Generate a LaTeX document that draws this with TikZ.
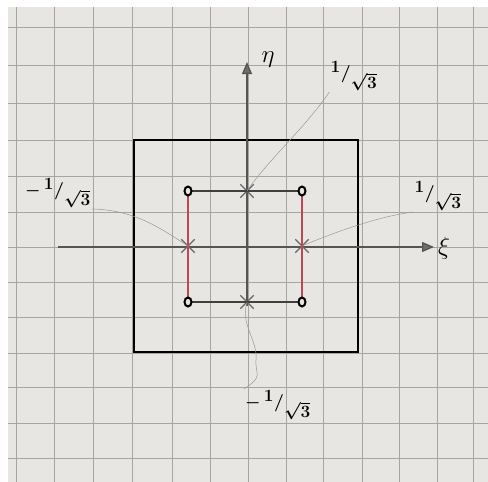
\documentclass[tikz,border=0pt]{standalone}
\usetikzlibrary{arrows.meta,shapes.geometric,shapes.misc}
\definecolor{paper}{RGB}{232,230,226}
\definecolor{gridc}{RGB}{168,165,161}
\definecolor{axisc}{RGB}{85,85,85}
\definecolor{redl}{RGB}{190,70,85}
\newcommand{\isqt}{{\boldmath$\mathbf{}^{\textstyle\mathbf{1}}/_{\textstyle\sqrt{\mathbf{3}}}$}}
\newcommand{\misqt}{{\boldmath$-\,{}^{\textstyle\mathbf{1}}/_{\textstyle\sqrt{\mathbf{3}}}$}}
\tikzset{
  gridline/.style={gridc,line width=0.9pt},
  axisline/.style={axisc,line width=1.3pt,-{Triangle[length=12pt,width=10pt,fill=axisc!85]}},
  gpoint/.style={ellipse,draw=black,line width=2pt,fill=paper,minimum width=7pt,minimum height=9pt,inner sep=0pt},
  xpoint/.style={cross out,draw=axisc!90,line width=1.3pt,minimum size=12pt,inner sep=0pt},
  blackl/.style={black!75,line width=1.2pt},
  redline/.style={redl,line width=1.3pt},
  leader/.style={gray!80,line width=0.5pt},
  lab/.style={font=\fontsize{19}{19}\selectfont,inner sep=1pt},
  axlab/.style={font=\fontsize{28}{28}\selectfont,inner sep=0pt}
}
\begin{document}
\begin{tikzpicture}[x=1pt,y=-1pt]
\useasboundingbox (0,0) rectangle (488,482);
\fill[white] (0,0) rectangle (488,482);
\fill[paper] (8,7) rectangle (488,482);
% grid
\foreach \gx in {16,54,93,132,172,210,248,286,323,362,399,437,473}
  \draw[gridline] (\gx,7) -- (\gx,482);
\foreach \gy in {27,65,103,140,176,212,247,282,317,353,387,423,458}
  \draw[gridline] (8,\gy) -- (488,\gy);
% outer square
\draw[black,line width=2.6pt] (134,140) rectangle (358,352);
% axes
\coordinate (xl) at (58,247);
\coordinate (xr) at (434,247);
\coordinate (yb) at (247,306);
\coordinate (yt) at (247,62);
\draw[axisline] (xl) -- (xr);
\draw[axisline] (yb) -- (yt);
\node[axlab] (eta) at (268,60) {$\eta$};
\node[axlab] (xi) at (444,248) {$\xi$};
% points
\node[xpoint] (x1) at (247,191) {};
\node[xpoint] (x2) at (188,246) {};
\node[xpoint] (x3) at (302,246) {};
\node[xpoint] (x4) at (247,302) {};
\draw[blackl] (188,191) -- (302,191);
\draw[blackl] (188,302) -- (302,302);
\draw[redline] (188,191) -- (188,302);
\draw[redline] (302,191) -- (302,302);
\node[gpoint] (c1) at (188,191) {};
\node[gpoint] (c2) at (302,191) {};
\node[gpoint] (c3) at (188,302) {};
\node[gpoint] (c4) at (302,302) {};
% labels
\node[lab] (lt) at (354,76) {\isqt};
\node[lab] (lr) at (438,196) {\isqt};
\node[lab] (ll) at (58,193) {\misqt};
\node[lab] (lb) at (278,405) {\misqt};
% leader lines
\draw[leader] (lt.south west) .. controls (305,128) and (268,160) .. (x1.center);
\draw[leader] (lr.south west) .. controls (380,216) and (335,232) .. (x3.center);
\draw[leader] (ll.south east) .. controls (135,210) and (160,228) .. (x2.center);
\draw[leader] (x4.center) .. controls (240,325) and (258,340) .. (256,360) .. controls (255,375) and (264,376) .. (lb.north west);
\end{tikzpicture}
\end{document}
